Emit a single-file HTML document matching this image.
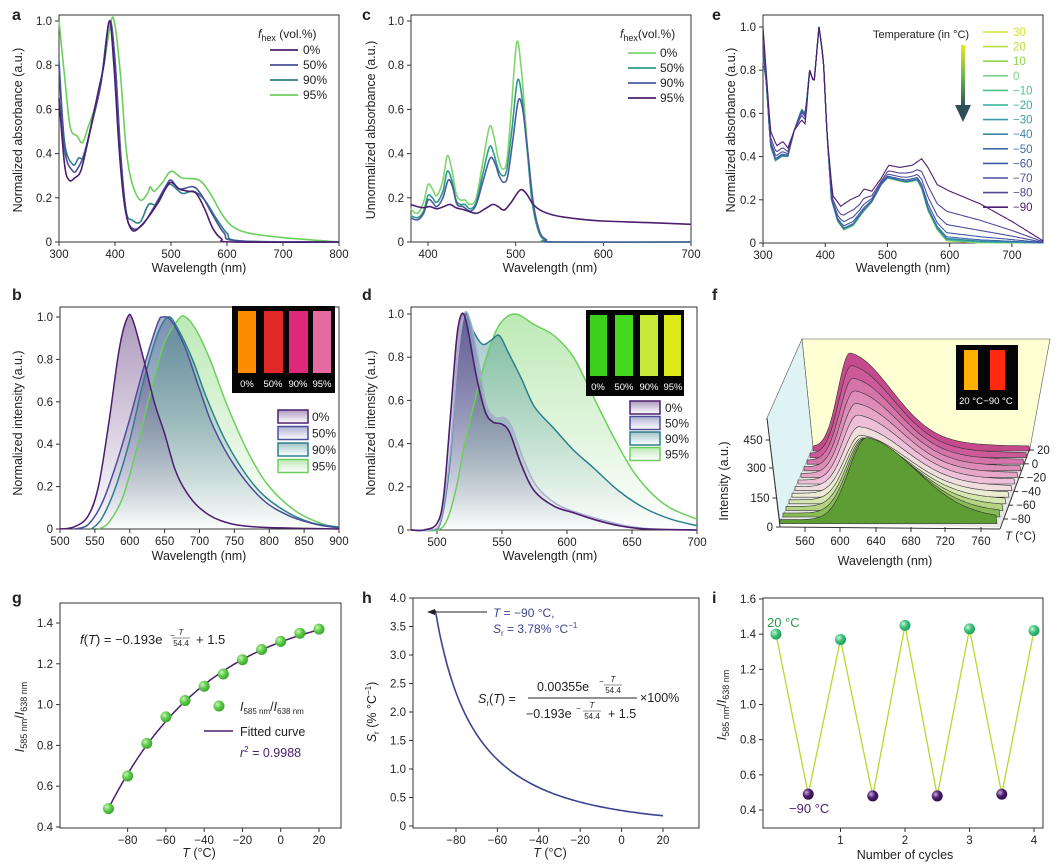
<!DOCTYPE html>
<html><head><meta charset="utf-8"><style>
html,body{margin:0;padding:0;background:#fff}
svg{display:block;font-family:"Liberation Sans",Arial,sans-serif}
</style></head><body>
<svg id="s" width="1057" height="867" viewBox="0 0 1057 867" xmlns="http://www.w3.org/2000/svg"></svg>
<script>
var S=[];function A(s){S.push(s)}
function cr(p){if(p.length<2)return'';var d='M'+p[0][0].toFixed(1)+','+p[0][1].toFixed(1);
for(var i=0;i<p.length-1;i++){var p0=p[i-1]||p[i],p1=p[i],p2=p[i+1],p3=p[i+2]||p2;
var c1=[p1[0]+(p2[0]-p0[0])/6,p1[1]+(p2[1]-p0[1])/6],c2=[p2[0]-(p3[0]-p1[0])/6,p2[1]-(p3[1]-p1[1])/6];
d+='C'+c1[0].toFixed(1)+','+c1[1].toFixed(1)+' '+c2[0].toFixed(1)+','+c2[1].toFixed(1)+' '+p2[0].toFixed(1)+','+p2[1].toFixed(1)}return d}
function M(x0,x1,px0,px1,y0,y1,py0,py1){return{X:function(x){return px0+(x-x0)/(x1-x0)*(px1-px0)},Y:function(y){return py0+(y-y0)/(y1-y0)*(py1-py0)}}}
function mp(m,pts){return pts.map(function(p){return[m.X(p[0]),m.Y(p[1])]})}
function interp(pts,x){if(x<=pts[0][0])return pts[0][1];for(var i=0;i<pts.length-1;i++){if(x<=pts[i+1][0]){var f=(x-pts[i][0])/(pts[i+1][0]-pts[i][0]);return pts[i][1]*(1-f)+pts[i+1][1]*f}}return pts[pts.length-1][1]}
function T(x,y,s,o){o=o||{};A('<text x="'+x+'" y="'+y+'" font-size="'+(o.fs||11.5)+'" fill="'+(o.c||'#222')+'" text-anchor="'+(o.a||'middle')+'"'+(o.r?' transform="rotate(-90 '+x+' '+y+')"':'')+(o.w?' font-weight="bold"':'')+(o.i?' font-style="italic"':'')+'>'+s+'</text>')}
function frame(l,t,r,b){A('<rect x="'+l+'" y="'+t+'" width="'+(r-l)+'" height="'+(b-t)+'" fill="none" stroke="#333" stroke-width="1"/>')}
function xt(m,vals,b,lab){vals.forEach(function(v){var x=m.X(v);A('<line x1="'+x+'" y1="'+b+'" x2="'+x+'" y2="'+(b+4)+'" stroke="#333"/>');T(x,b+16,lab?lab(v):v)})}
function yt(m,vals,l,lab){vals.forEach(function(v){var y=m.Y(v);A('<line x1="'+(l-4)+'" y1="'+y+'" x2="'+l+'" y2="'+y+'" stroke="#333"/>');T(l-7,y+4,lab?lab(v):v,{a:'end'})})}
function ln(pts,c,w){A('<path d="'+cr(pts)+'" fill="none" stroke="'+c+'" stroke-width="'+(w||1.6)+'"/>')}
function dec(v){return v==0?'0':v.toFixed(1)}
var defs='<defs>';
var cols=[['g0','#4b1e6e'],['g1','#4a4f9a'],['g2','#2f7f8a'],['g3','#6ccf5c']];
cols.forEach(function(c){defs+='<linearGradient id="'+c[0]+'" x1="0" y1="0" x2="0" y2="1"><stop offset="0" stop-color="'+c[1]+'" stop-opacity=".45"/><stop offset="1" stop-color="'+c[1]+'" stop-opacity="0"/></linearGradient>'});
defs+='<linearGradient id="ga" x1="0" y1="0" x2="0" y2="1"><stop offset="0" stop-color="#e8e820"/><stop offset=".5" stop-color="#6cb84c"/><stop offset="1" stop-color="#2f4f56"/></linearGradient>';
defs+='<radialGradient id="gb" cx=".35" cy=".35" r=".7"><stop offset="0" stop-color="#c8f5b8"/><stop offset=".5" stop-color="#5ccc48"/><stop offset="1" stop-color="#3aa030"/></radialGradient>';
defs+='<radialGradient id="gt" cx=".35" cy=".35" r=".7"><stop offset="0" stop-color="#c8f5dc"/><stop offset=".5" stop-color="#3cc07a"/><stop offset="1" stop-color="#1f9a5a"/></radialGradient>';
defs+='<radialGradient id="gp" cx=".35" cy=".35" r=".7"><stop offset="0" stop-color="#c8a8e0"/><stop offset=".5" stop-color="#4b1e6e"/><stop offset="1" stop-color="#2e0e48"/></radialGradient>';
defs+='</defs>';
function area(m,pts,g,base){var p=mp(m,pts);var d=cr(p)+'L'+p[p.length-1][0]+','+base+'L'+p[0][0]+','+base+'Z';A('<path d="'+d+'" fill="url(#'+g+')"/>')}
function inset(x,y,w,h,tubes,labs){A('<rect x="'+x+'" y="'+y+'" width="'+w+'" height="'+h+'" fill="#050505"/>');
tubes.forEach(function(t){A('<rect x="'+t[0]+'" y="'+(y+5)+'" width="'+t[1]+'" height="'+(h-25)+'" fill="'+t[2]+'"/>')});
labs.forEach(function(l){T(l[0],y+h-6,l[1],{fs:9.5,c:'#fff'})})}
function neg(v){return v<0?'−'+(-v):v}
function frac(x,y){T(x,y-6,'<tspan font-style="italic">T</tspan>',{fs:8});A('<line x1="'+(x-9)+'" y1="'+(y-3)+'" x2="'+(x+9)+'" y2="'+(y-3)+'" stroke="#222" stroke-width=".6"/>');T(x,y+5,'54.4',{fs:8})}
var panels=[];
// ---------- a ----------
panels.push(function(){
T(12,20,'a',{fs:16,w:1,a:'start'});
var ma=M(300,800,59,339,0,1,242,21);
frame(59,15,339,242);xt(ma,[300,400,500,600,700,800],242);yt(ma,[0,.2,.4,.6,.8,1],59,dec);
T(22,130,'Normalized absorbance (a.u.)',{r:1,fs:12.5});T(199,272,'Wavelength (nm)',{fs:12.5});
var a0=[[300,.65],[310,.35],[318,.28],[328,.29],[340,.33],[355,.5],[370,.68],[380,.8],[390,1.0],[398,.8],[408,.4],[418,.15],[430,.055],[445,.07],[470,.15],[490,.24],[500,.27],[515,.24],[530,.23],[545,.22],[560,.15],[575,.06],[590,.015],[610,0],[800,0]];
var a50=[[300,.8],[310,.42],[325,.32],[335,.34],[345,.4],[360,.55],[375,.72],[390,1.0],[400,.82],[410,.4],[420,.13],[432,.06],[450,.08],[470,.16],[490,.25],[500,.28],[515,.24],[540,.25],[555,.21],[575,.12],[595,.04],[620,.005],[800,0]];
var a90=[[300,.82],[310,.45],[325,.35],[335,.38],[345,.39],[360,.55],[375,.72],[390,1.0],[400,.82],[410,.4],[420,.14],[430,.1],[445,.09],[460,.17],[475,.17],[490,.24],[500,.26],[520,.22],[540,.23],[560,.19],[580,.11],[600,.04],[625,.005],[800,0]];
var a95=[[300,1.0],[310,.75],[320,.52],[332,.48],[342,.45],[352,.52],[365,.62],[380,.8],[393,1.0],[400,.98],[410,.75],[420,.42],[430,.27],[445,.19],[458,.22],[463,.25],[470,.23],[485,.27],[500,.32],[520,.29],[550,.28],[570,.22],[590,.13],[610,.07],[640,.04],[700,.02],[800,0]];
ln(mp(ma,a95),'#6ccf5c');ln(mp(ma,a90),'#2f7f8a');ln(mp(ma,a50),'#4a4f9a');ln(mp(ma,a0),'#4b1e6e');
T(258,38,'<tspan font-style="italic">f</tspan><tspan font-size="9" dy="3">hex</tspan><tspan dy="-3"> (vol.%)</tspan>',{a:'start',fs:12});
[['0%','#4b1e6e'],['50%','#4a4f9a'],['90%','#2f7f8a'],['95%','#6ccf5c']].forEach(function(e,i){var y=50+i*15;A('<line x1="270" y1="'+y+'" x2="298" y2="'+y+'" stroke="'+e[1]+'" stroke-width="1.8"/>');T(303,y+4,e[0],{a:'start',fs:12})});
});
// ---------- c ----------
panels.push(function(){
T(362,20,'c',{fs:16,w:1,a:'start'});
var mc=M(380,700,410.5,691,0,1,242,21);
frame(411,15,691,242);xt(mc,[400,500,600,700],242);yt(mc,[0,.2,.4,.6,.8,1],411,dec);
T(375,130,'Unnormalized absorbance (a.u.)',{r:1,fs:12.5});T(550,272,'Wavelength (nm)',{fs:12.5});
var c0=[[380,.15],[388,.13],[395,.18],[400,.26],[405,.24],[410,.21],[417,.28],[422,.39],[427,.33],[432,.22],[437,.19],[442,.19],[448,.17],[455,.2],[462,.35],[470,.52],[475,.48],[480,.38],[485,.33],[490,.37],[495,.6],[501,.9],[506,.8],[512,.5],[518,.2],[525,.06],[532,.015],[545,0],[700,0]];
var c50=[[380,.12],[388,.11],[395,.14],[400,.21],[405,.2],[410,.18],[417,.23],[422,.32],[427,.28],[432,.19],[437,.17],[442,.17],[448,.15],[455,.18],[462,.3],[470,.43],[475,.4],[480,.33],[485,.3],[490,.33],[496,.52],[502,.73],[507,.66],[513,.42],[519,.18],[526,.05],[533,.01],[545,0],[700,0]];
var c90=[[380,.11],[388,.1],[395,.13],[400,.19],[405,.18],[410,.16],[417,.2],[423,.28],[428,.25],[433,.17],[440,.16],[448,.14],[455,.17],[463,.28],[471,.38],[477,.35],[481,.3],[486,.27],[491,.3],[497,.47],[503,.64],[508,.6],[514,.4],[520,.18],[527,.05],[535,.01],[545,0],[700,0]];
var c95=[[380,.17],[388,.16],[395,.155],[402,.16],[410,.15],[418,.16],[425,.17],[432,.155],[442,.145],[455,.13],[465,.15],[474,.17],[480,.16],[487,.145],[495,.18],[505,.235],[512,.22],[520,.17],[530,.14],[545,.12],[570,.105],[600,.095],[650,.088],[700,.08]];
ln(mp(mc,c0),'#7fd46e');ln(mp(mc,c50),'#2a9c8a');ln(mp(mc,c90),'#4a5c9c');ln(mp(mc,c95),'#4b1e6e');
T(620,38,'<tspan font-style="italic">f</tspan><tspan font-size="9" dy="3">hex</tspan><tspan dy="-3">(vol.%)</tspan>',{a:'start',fs:12});
[['0%','#7fd46e'],['50%','#2a9c8a'],['90%','#4a5c9c'],['95%','#4b1e6e']].forEach(function(e,i){var y=53+i*15;A('<line x1="628" y1="'+y+'" x2="656" y2="'+y+'" stroke="'+e[1]+'" stroke-width="1.8"/>');T(660,y+4,e[0],{a:'start',fs:12})});
});
// ---------- e ----------
panels.push(function(){
T(712,20,'e',{fs:16,w:1,a:'start'});
var me=M(300,750,763,1043,0,1,243,27);
frame(763,15,1043,243);xt(me,[300,400,500,600,700],243);yt(me,[0,.2,.4,.6,.8,1],763,dec);
T(735,130,'Normalized absorbance (a.u.)',{r:1,fs:12.5});T(903,272,'Wavelength (nm)',{fs:12.5});
var eb=[[300,.85],[305,.75],[312,.45],[320,.38],[330,.4],[340,.4],[350,.52],[362,.62],[368,.6],[375,.8],[382,.74],[390,1.0],[397,.85],[403,.5],[410,.2],[420,.1],[430,.06],[445,.08],[460,.14],[475,.19],[490,.27],[500,.3],[515,.29],[530,.28],[548,.29],[555,.25],[565,.15],[580,.06],[595,.01],[650,0],[700,0],[750,0]];
var e9=[[300,1.0],[305,.8],[312,.52],[322,.45],[332,.47],[340,.44],[350,.52],[362,.57],[368,.55],[375,.8],[382,.74],[390,1.0],[397,.85],[403,.5],[412,.22],[425,.17],[440,.2],[455,.22],[462,.25],[475,.24],[490,.3],[502,.36],[520,.35],[540,.36],[555,.39],[565,.35],[580,.27],[600,.24],[650,.18],[700,.1],[750,.01]];
var xs=[];for(var x=300;x<=750;x+=2.5)xs.push(x);
var ec=['#d9e02a','#b8dc3e','#8fd44a','#7fcf8a','#4ec48a','#2fb09a','#3a9aa5','#3a85a8','#3b6da8','#3e5aa5','#4a4fa0','#55449a','#4b1e6e'];
var ew=[0,0,.01,.01,.02,.03,.04,.05,.08,.16,.32,.58,1];
var et=['30','20','10','0','−10','−20','−30','−40','−50','−60','−70','−80','−90'];
for(var k=0;k<13;k++){var w=ew[k];var pts=xs.map(function(x){return[x,interp(eb,x)*(1-w)+interp(e9,x)*w]});
A('<polyline points="'+mp(me,pts).map(function(p){return p[0].toFixed(1)+','+p[1].toFixed(1)}).join(' ')+'" fill="none" stroke="'+ec[k]+'" stroke-width="1.1"/>')}
T(873,38,'Temperature (in °C)',{a:'start',fs:11});
A('<rect x="961" y="45" width="4" height="62" fill="url(#ga)"/><polygon points="955,105 971,105 963,122" fill="#2f4f56"/>');
for(var k=0;k<13;k++){var y=32+k*14.6;A('<line x1="983" y1="'+y+'" x2="1008" y2="'+y+'" stroke="'+ec[k]+'" stroke-width="1.6"/>');T(1013,y+4,et[k],{a:'start',fs:11.5,c:ec[k]})}
});
// ---------- b ----------
panels.push(function(){
T(12,300,'b',{fs:16,w:1,a:'start'});
var mb=M(500,900,60,339,0,1,529,317);
frame(60,307,339,529);xt(mb,[500,550,600,650,700,750,800,850,900],529);yt(mb,[0,.2,.4,.6,.8,1],60,dec);
T(22,423,'Normalized intensity (a.u.)',{r:1,fs:12.5});T(199,560,'Wavelength (nm)',{fs:12.5});
var b0=[[500,0],[520,.01],[540,.06],[555,.2],[570,.5],[585,.85],[597,1.0],[605,.98],[620,.8],[635,.6],[650,.45],[665,.28],[680,.18],[700,.1],[730,.04],[780,.01],[900,0]];
var b50=[[520,0],[540,.02],[560,.12],[580,.3],[600,.52],[620,.76],[640,.97],[648,1],[660,.98],[680,.85],[700,.66],[720,.48],[750,.3],[790,.14],[830,.06],[870,.02],[900,.005]];
var b90=[[545,0],[560,.05],[580,.2],[600,.42],[620,.7],[640,.92],[655,1],[668,.95],[690,.8],[710,.62],[740,.4],[780,.2],[820,.09],[860,.03],[900,.01]];
var b95=[[555,0],[570,.03],[590,.15],[610,.38],[630,.65],[650,.88],[670,.99],[680,1],[695,.94],[715,.8],[740,.58],[770,.36],[800,.2],[840,.08],[880,.02],[900,.01]];
[[b95,3],[b90,2],[b50,1],[b0,0]].forEach(function(q){area(mb,q[0],cols[q[1]][0],529)});
[[b95,3],[b90,2],[b50,1],[b0,0]].forEach(function(q){ln(mp(mb,q[0]),cols[q[1]][1],1.5)});
inset(232,306,103,87,[[238,18,'#ff8c00'],[264,19,'#e02828'],[289,19,'#e0287a'],[313,18,'#e46aa0']],[[247,'0%'],[273,'50%'],[298,'90%'],[322,'95%']]);
['0%','50%','90%','95%'].forEach(function(l,i){var y=410+i*16.5;A('<rect x="278" y="'+y+'" width="30" height="13" fill="url(#'+cols[i][0]+')" stroke="'+cols[i][1]+'" stroke-width="1.5"/>');T(312,y+11,l,{a:'start',fs:12})});
});
// ---------- d ----------
panels.push(function(){
T(362,300,'d',{fs:16,w:1,a:'start'});
var md=M(480,700,411,697,0,1,530,314);
frame(411,307,697,530);xt(md,[500,550,600,650,700],530);yt(md,[0,.2,.4,.6,.8,1],411,dec);
T(375,423,'Normalized intensity (a.u.)',{r:1,fs:12.5});T(550,560,'Wavelength (nm)',{fs:12.5});
var d0=[[480,0],[490,0],[500,.03],[505,.15],[510,.5],[515,.88],[519,1],[523,.95],[530,.72],[537,.55],[543,.5],[550,.49],[556,.45],[565,.3],[575,.18],[590,.11],[605,.08],[620,.05],[640,.02],[660,.005],[700,0]];
var d50=[[480,0],[495,0],[503,.05],[510,.35],[516,.8],[521,1],[526,.96],[532,.78],[538,.58],[545,.52],[552,.52],[558,.47],[567,.32],[577,.2],[592,.12],[608,.08],[625,.05],[645,.02],[665,.005],[700,0]];
var d90=[[480,0],[495,0],[503,.04],[510,.32],[516,.8],[522,1],[528,.92],[535,.86],[542,.88],[548,.9],[555,.82],[565,.7],[575,.57],[590,.47],[605,.37],[620,.29],[640,.18],[660,.1],[680,.05],[700,.02]];
var d95=[[480,0],[500,0],[508,.05],[515,.2],[522,.42],[530,.62],[538,.8],[548,.95],[560,1],[575,.95],[590,.9],[605,.8],[620,.62],[635,.44],[650,.28],[665,.17],[680,.1],[700,.05]];
[[d95,3],[d90,2],[d50,1],[d0,0]].forEach(function(q){area(md,q[0],cols[q[1]][0],530)});
ln(mp(md,d95),'#6ccf5c',1.5);ln(mp(md,d90),'#2f7f8a',1.5);ln(mp(md,d50),'#a9aed0',1.5);ln(mp(md,d0),'#4b1e6e',1.6);
inset(586,310,98,86,[[590,17,'#3ad01c'],[615,18,'#44d820'],[640,18,'#c8e83a'],[664,17,'#dcea1a']],[[598,'0%'],[624,'50%'],[649,'90%'],[673,'95%']]);
['0%','50%','90%','95%'].forEach(function(l,i){var y=401+i*15.5;A('<rect x="630" y="'+y+'" width="30" height="13" fill="url(#'+cols[i][0]+')" stroke="'+cols[i][1]+'" stroke-width="1.5"/>');T(665,y+11,l,{a:'start',fs:12})});
});
// ---------- f ----------
panels.push(function(){
T(712,300,'f',{fs:16,w:1,a:'start'});
A('<polygon points="802,339 1050,339 1030,448 813,447" fill="#ffffd4" stroke="#555" stroke-width=".6"/>');
A('<polygon points="802,339 767,418 780,523 813,447" fill="#dff3f5" stroke="#555" stroke-width=".6"/>');
A('<polygon points="813,447 1030,448 1000,527 780,523" fill="#e8e8e8"/>');
var fc=['#c44a8c','#cc5a98','#d574a8','#dd8cb8','#e6a6c8','#eebfd8','#f0dede','#ecebd4','#d6e6b0','#b4d484','#88bb58','#5e9c34'];
var fh=[94,88,82,76,70,65,60,58,62,68,75,82];
for(var i=0;i<12;i++){var bx=813-3*i,by=447+6.6*i,L=217;var pk=37+50*i/11;var sl=12+6*i/11,sr=42+8*i/11;var pts=[];
for(var x=0;x<=L;x+=3){var u=x-pk;var s=u<0?sl:sr;var v=Math.exp(-u*u/(2*s*s));if(u>0)v=0.85*v+0.15*Math.exp(-u/70);pts.push([bx+x,by-fh[i]*v]);}
var d=cr(pts)+'L'+(bx+L)+','+(by+4)+'L'+bx+','+(by+4)+'Z';
A('<path d="'+d+'" fill="'+fc[i]+'" stroke="#333" stroke-width=".6"/>')}
A('<line x1="780" y1="527" x2="1000" y2="529" stroke="#333"/><line x1="1030" y1="448" x2="1000" y2="529" stroke="#333"/><line x1="767" y1="418" x2="780" y2="527" stroke="#333"/>');
[[560,805],[600,840],[640,876],[680,911],[720,945],[760,981]].forEach(function(t){A('<line x1="'+t[1]+'" y1="527" x2="'+t[1]+'" y2="532" stroke="#333"/>');T(t[1],545,t[0])});
[[450,440],[300,468],[150,498],[0,527]].forEach(function(t){var x=767+(t[1]-418)/109*13;A('<line x1="'+(x-4)+'" y1="'+t[1]+'" x2="'+x+'" y2="'+t[1]+'" stroke="#333"/>');T(x-7,t[1]+4,t[0],{a:'end'})});
['20','0','−20','−40','−60','−80'].forEach(function(l,i){var y=450+i*13.8;var x=1029-i*5.2;A('<line x1="'+x+'" y1="'+y+'" x2="'+(x+5)+'" y2="'+y+'" stroke="#333"/>');T(x+8,y+4,l,{a:'start'})});
T(1005,540,'<tspan font-style="italic">T</tspan> (°C)',{a:'start'});
T(728,481,'Intensity (a.u.)',{r:1,fs:12.5});T(885,565,'Wavelength (nm)',{fs:12.5});
inset(956,345,62,65,[[964,14,'#ffb000'],[990,15,'#ff2a10']],[[971,'20 °C'],[998,'−90 °C']]);
});
// ---------- g ----------
panels.push(function(){
T(12,603,'g',{fs:16,w:1,a:'start'});
var mg=M(-90,20,108.5,319,.4,1.4,827,623);
frame(60,603,341,828);xt(mg,[-80,-60,-40,-20,0,20],828,neg);yt(mg,[.4,.6,.8,1,1.2,1.4],60,dec);
T(24,717,'<tspan font-style="italic">I</tspan><tspan font-size="9" dy="3">585 nm</tspan><tspan dy="-3">/</tspan><tspan font-style="italic">I</tspan><tspan font-size="9" dy="3">638 nm</tspan>',{r:1,fs:12.5});
T(199,857,'<tspan font-style="italic">T</tspan> (°C)',{fs:12.5});
var fp=[];for(var t=-90;t<=20;t+=2)fp.push([mg.X(t),mg.Y(-0.193*Math.exp(-t/54.4)+1.5)]);ln(fp,'#4b1e6e',1.5);
[.49,.65,.81,.94,1.02,1.09,1.15,1.22,1.27,1.31,1.35,1.37].forEach(function(v,i){A('<circle cx="'+mg.X(-90+10*i)+'" cy="'+mg.Y(v)+'" r="5.5" fill="url(#gb)"/>')});
T(80,644,'<tspan font-style="italic">f</tspan>(<tspan font-style="italic">T</tspan>) = −0.193e',{a:'start',fs:13});
T(170,638,'−',{a:'start',fs:8});frac(181,641);
T(196,644,'+ 1.5',{a:'start',fs:13});
A('<circle cx="219" cy="706" r="5.5" fill="url(#gb)"/>');
T(240,711,'<tspan font-style="italic">I</tspan><tspan font-size="8" dy="3">585 nm</tspan><tspan dy="-3">/</tspan><tspan font-style="italic">I</tspan><tspan font-size="8" dy="3">638 nm</tspan>',{a:'start',fs:12.5});
A('<line x1="204" y1="731" x2="233" y2="731" stroke="#4b1e6e" stroke-width="1.6"/>');T(240,736,'Fitted curve',{a:'start',fs:12.5});
T(240,757,'<tspan font-style="italic">r</tspan><tspan dy="-5" font-size="8">2</tspan><tspan dy="5"> = 0.9988</tspan>',{a:'start',fs:12.5,c:'#4b1e6e'});
});
// ---------- h ----------
panels.push(function(){
T(362,603,'h',{fs:16,w:1,a:'start'});
var mh=M(-80,20,456,663,0,4,826,598);
frame(413,598,699,828);xt(mh,[-80,-60,-40,-20,0,20],828,neg);
yt(mh,[0,.5,1,1.5,2,2.5,3,3.5,4],413,function(v){return v==0?'0':v.toFixed(1)});
T(376,712,'<tspan font-style="italic">S</tspan><tspan font-size="8" dy="3">r</tspan><tspan dy="-3"> (% °C</tspan><tspan dy="-5" font-size="8">−1</tspan><tspan dy="5">)</tspan>',{r:1,fs:12.5});
T(550,857,'<tspan font-style="italic">T</tspan> (°C)',{fs:12.5});
var hp=[];for(var t=-90;t<=20;t+=2){var ex=Math.exp(-t/54.4);hp.push([mh.X(t),mh.Y(0.355*ex/(-0.193*ex+1.5))])}ln(hp,'#3a4590',1.6);
A('<line x1="432" y1="612" x2="487" y2="612" stroke="#222" stroke-width="1"/><polygon points="427,612 435,609 435,615" fill="#222"/>');
T(493,617,'<tspan font-style="italic">T</tspan> = −90 °C,',{a:'start',fs:12,c:'#3a4590'});
T(493,633,'<tspan font-style="italic">S</tspan><tspan font-size="8" dy="3">r</tspan><tspan dy="-3"> = 3.78% °C</tspan><tspan dy="-5" font-size="8">−1</tspan>',{a:'start',fs:12,c:'#3a4590'});
T(478,703,'<tspan font-style="italic">S</tspan><tspan font-size="8" dy="3">r</tspan><tspan dy="-3">(</tspan><tspan font-style="italic">T</tspan>) =',{a:'start',fs:12.5});
T(537,691,'0.00355e',{a:'start',fs:12.5});T(599,684,'−',{a:'start',fs:8});frac(613,688);
A('<line x1="528" y1="698" x2="637" y2="698" stroke="#222" stroke-width="1"/>');T(640,702,'×100%',{a:'start',fs:12.5});
T(526,718,'−0.193e',{a:'start',fs:12.5});T(576,711,'−',{a:'start',fs:8});frac(592,714);
T(608,718,'+ 1.5',{a:'start',fs:12.5});
});
// ---------- i ----------
panels.push(function(){
T(712,603,'i',{fs:16,w:1,a:'start'});
var mi=M(0,4,776,1034,.4,1.6,810,599);
frame(763,598,1043,828);xt(mi,[1,2,3,4],828);yt(mi,[.4,.6,.8,1,1.2,1.4,1.6],763,dec);
T(726,705,'<tspan font-style="italic">I</tspan><tspan font-size="9" dy="3">585 nm</tspan><tspan dy="-3">/</tspan><tspan font-style="italic">I</tspan><tspan font-size="9" dy="3">638 nm</tspan>',{r:1,fs:12.5});
T(905,859,'Number of cycles',{fs:12.5});
var iv=[1.40,.49,1.37,.48,1.45,.48,1.43,.49,1.42];
A('<polyline points="'+iv.map(function(v,i){return mi.X(i*.5)+','+mi.Y(v)}).join(' ')+'" fill="none" stroke="#b8d830" stroke-width="1.3"/>');
iv.forEach(function(v,i){A('<circle cx="'+mi.X(i*.5)+'" cy="'+mi.Y(v)+'" r="5.5" fill="url(#'+(i%2?'gp':'gt')+')"/>')});
T(767,627,'20 °C',{a:'start',fs:13,c:'#2a9a4a'});T(789,813,'−90 °C',{a:'start',fs:13,c:'#4b1e6e'});
});
panels.forEach(function(f){try{f()}catch(err){}});
document.getElementById('s').innerHTML=defs+S.join('');
</script>
</body></html>
